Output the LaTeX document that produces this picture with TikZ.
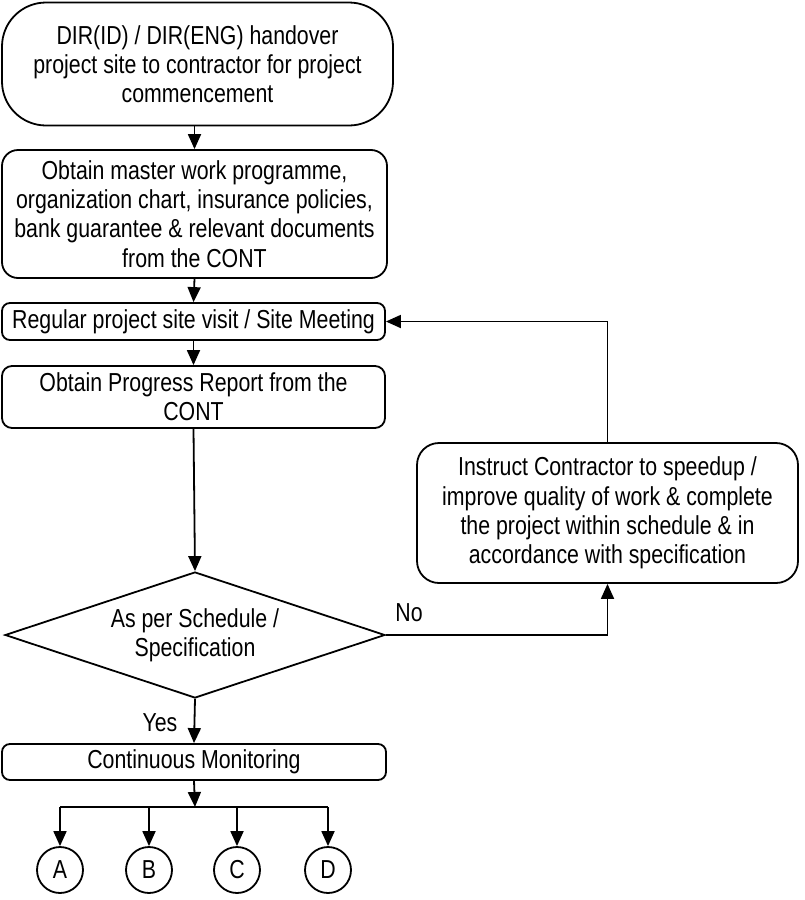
\documentclass[tikz,border=0pt]{standalone}
\usepackage{fontspec}
\setmainfont{Liberation Sans}[FakeStretch=0.82]
\usepackage{tikz}
\usetikzlibrary{arrows.meta,shapes.geometric}

\tikzset{
  box/.style={draw, line width=0.9pt, rounded corners=6pt, align=center, inner sep=2pt},
  arr/.style={line width=0.9pt, -{Triangle[length=7.5pt,width=6.5pt]}},
  conn/.style={draw, circle, line width=0.9pt, minimum size=23pt, inner sep=0pt}
}

\begin{document}
\begin{tikzpicture}[x=0.5pt, y=-0.5pt, font=\fontsize{13pt}{14.6pt}\selectfont]
\useasboundingbox (0,0) rectangle (804,900);

\node[box, rounded corners=22pt, minimum width=195.5pt, minimum height=61.5pt] (start) at (197.5,64)
  {DIR(ID) / DIR(ENG) handover\\project site to contractor for project\\commencement};
\node[box, rounded corners=8pt, minimum width=192.5pt, minimum height=64pt] (obtain) at (194.5,214)
  {Obtain master work programme,\\organization chart, insurance policies,\\bank guarantee \& relevant documents\\from the CONT};
\node[box, rounded corners=4pt, minimum width=191.5pt, minimum height=18.5pt] (visit) at (193.5,321.5)
  {Regular project site visit / Site Meeting};
\node[box, rounded corners=5pt, minimum width=191.5pt, minimum height=31pt] (report) at (193.5,397)
  {Obtain Progress Report from the\\CONT};
\node[draw, diamond, line width=0.9pt, aspect=3, inner sep=0pt, align=center,
  minimum width=190pt, minimum height=63pt] (check) at (195,635)
  {As per Schedule /\\Specification};
\node[box, rounded corners=4pt, minimum width=192pt, minimum height=18pt] (monitor) at (194,762)
  {Continuous Monitoring};
\node[box, rounded corners=11pt, minimum width=190.5pt, minimum height=70pt] (instruct) at (607.5,513)
  {Instruct Contractor to speedup /\\improve quality of work \& complete\\the project within schedule \& in\\accordance with specification};

\node (no) at (409,613) {No};
\node (yes) at (160,723) {Yes};

\node[conn] (a) at (60,870) {A};
\node[conn] (b) at (149,870) {B};
\node[conn] (c) at (237,870) {C};
\node[conn] (d) at (328,870) {D};
\coordinate (split) at (195,807);

\draw[arr] (start.south -| obtain.north) -- (obtain.north);
\draw[arr] (obtain.south) -- (visit.north);
\draw[arr] (visit.south) -- (report.north);
\draw[arr] (report.south) -- (check.north);
\draw[arr] (check.south) -- (monitor.north);
\draw[arr] (check.east) -| (instruct.south);
\draw[arr] (instruct.north) |- (visit.east);
\draw[arr] (monitor.south) -- (split);
\draw[line width=0.9pt] (a |- split) -- (d |- split);
\foreach \n in {a,b,c,d}
  \draw[arr] (\n |- split) -- (\n.north);
\end{tikzpicture}
\end{document}
